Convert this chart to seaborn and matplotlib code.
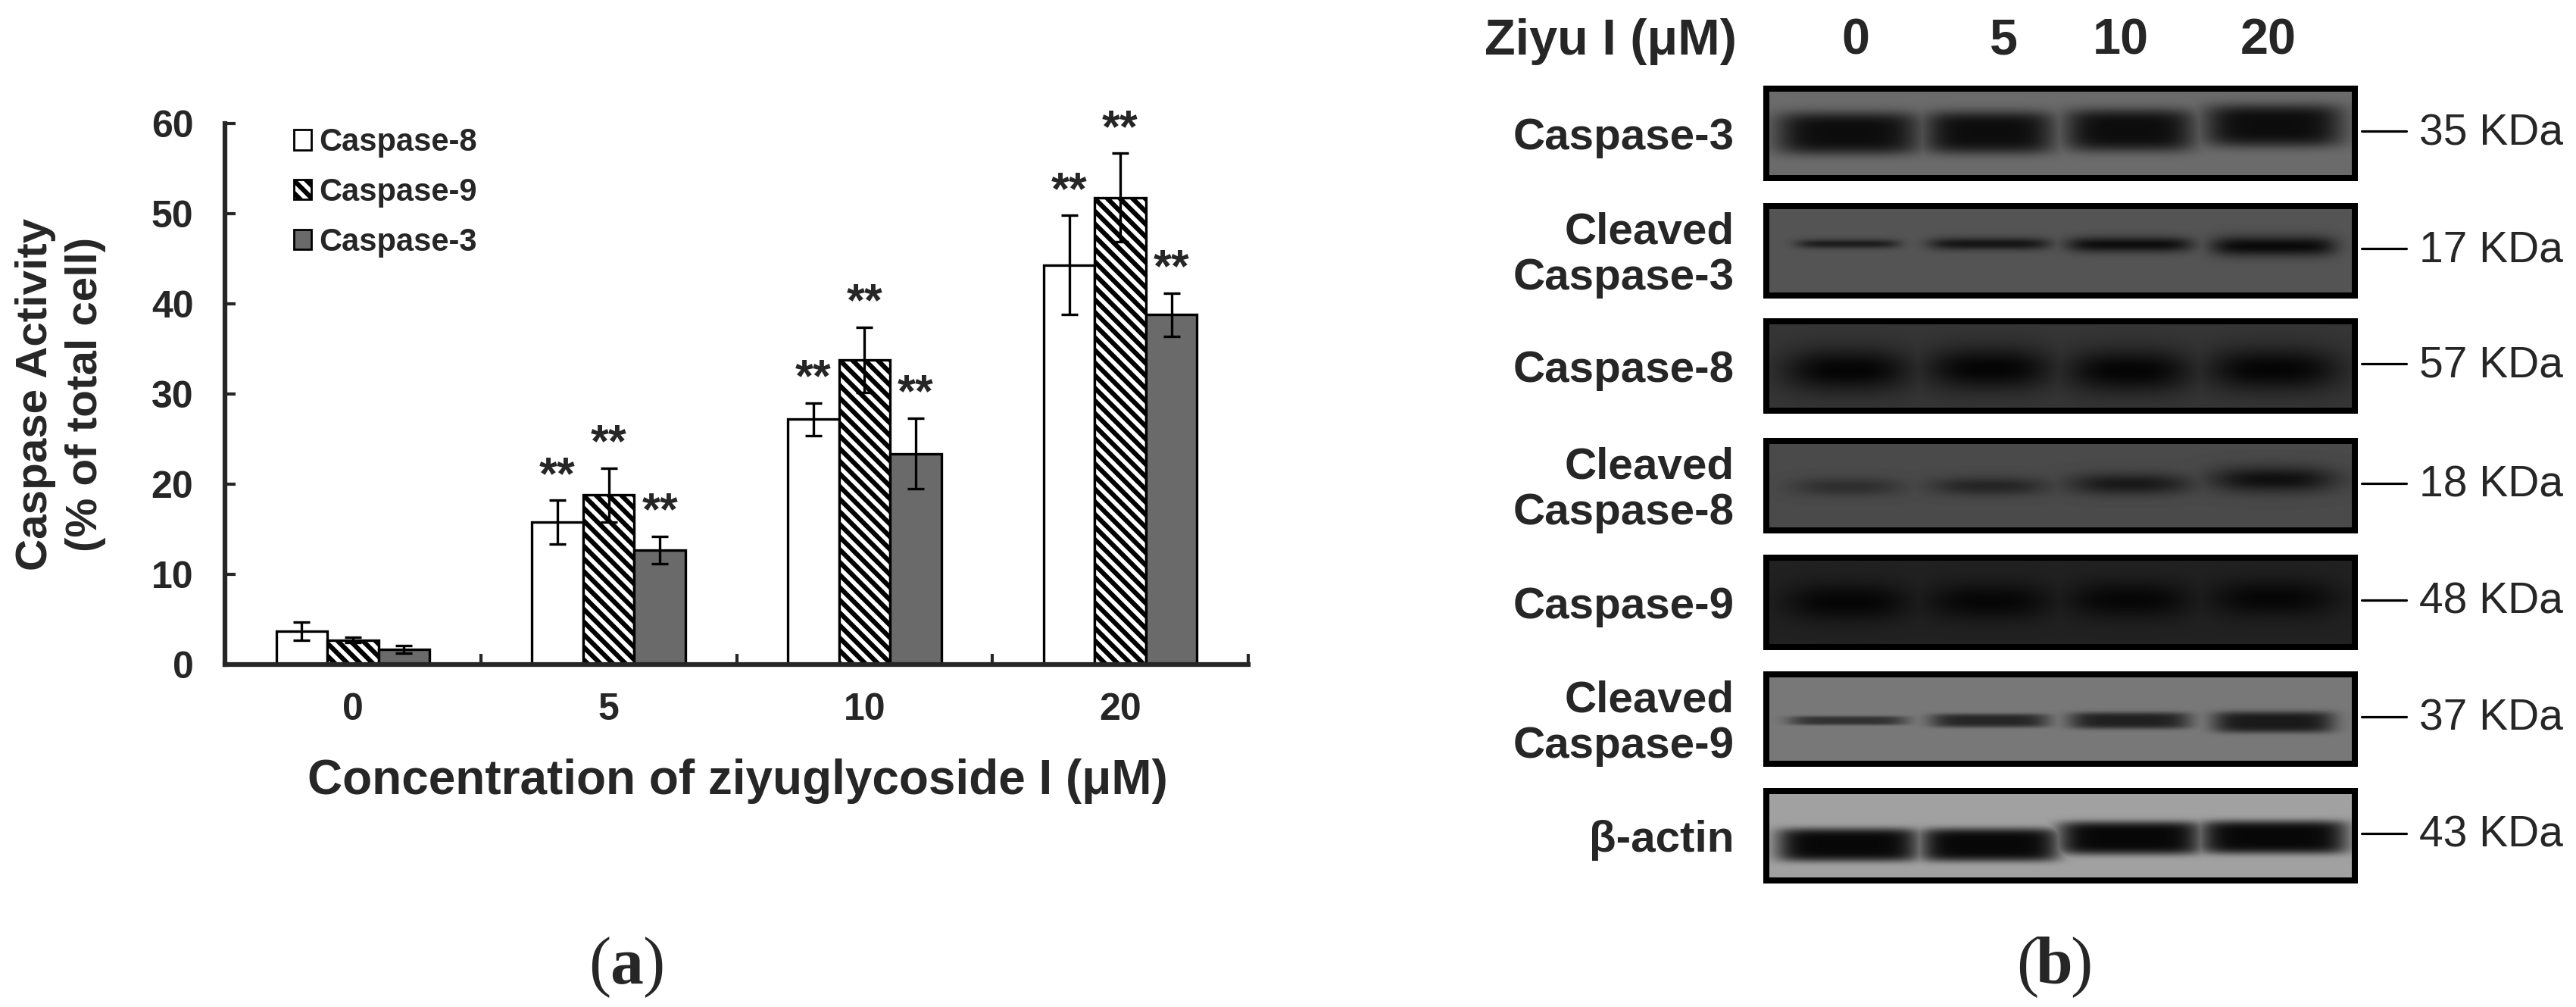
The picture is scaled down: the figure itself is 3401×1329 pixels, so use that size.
import numpy as np
import pandas as pd
import matplotlib
matplotlib.use("Agg")
import matplotlib.pyplot as plt
from matplotlib.patches import Patch, Rectangle
import seaborn as sns

W, H, DPI = 3401, 1329, 100

# ---------------- panel (a): caspase activity ----------------
concentrations = ["0", "5", "10", "20"]
caspases = ["Caspase-8", "Caspase-9", "Caspase-3"]
casp8_mean = [3.7, 15.8, 27.2, 44.3]
casp8_sd = [1.0, 2.4, 1.8, 5.5]
casp9_mean = [2.7, 18.8, 33.8, 51.8]
casp9_sd = [0.3, 3.0, 3.6, 4.9]
casp3_mean = [1.7, 12.7, 23.4, 38.8]
casp3_sd = [0.4, 1.5, 3.9, 2.4]
marked = [False, True, True, True]   # "**" above the treated groups

# ---------------- panel (b): western blot ----------------
lane_doses = ["0", "5", "10", "20"]
blot_labels = ["Caspase-3", "Cleaved\nCaspase-3", "Caspase-8", "Cleaved\nCaspase-8",
               "Caspase-9", "Cleaved\nCaspase-9", "β-actin"]
blot_kda = ["35 KDa", "17 KDa", "57 KDa", "18 KDa", "48 KDa", "37 KDa", "43 KDa"]
# relative band darkness per lane (1 = saturated)
casp3_band = [1.0, 1.0, 1.0, 1.0]
cl_casp3_band = [0.75, 0.85, 0.95, 1.0]
casp8_band = [1.0, 1.0, 1.0, 1.0]
cl_casp8_band = [0.45, 0.6, 0.8, 0.95]
casp9_band = [1.0, 0.95, 0.95, 0.95]
cl_casp9_band = [0.7, 0.82, 0.88, 0.95]
actin_band = [1.0, 1.0, 1.0, 1.0]
band_strength = [casp3_band, cl_casp3_band, casp8_band, cl_casp8_band,
                 casp9_band, cl_casp9_band, actin_band]

# membrane grey and darkest band grey of every strip
blot_bg = [0.42, 0.33, 0.21, 0.29, 0.13, 0.47, 0.63]
blot_core = [0.05, 0.04, 0.02, 0.05, 0.02, 0.08, 0.03]

# strip geometry (pixels)
box_left, box_right, box_h, border = 2328, 3113, 126, 8
box_top = [113, 268, 420, 578, 732, 886, 1040]
lane_x = [2440, 2627, 2812, 3002]
band_hw = [[95, 86, 86, 92], [68, 80, 83, 82], [84, 84, 84, 88], [72, 77, 80, 82],
           [82, 82, 82, 84], [78, 78, 80, 80], [94, 92, 95, 98]]
band_y = [[176, 175, 172, 166], [322, 322, 323, 325], [489, 487, 490, 488],
          [643, 642, 639, 633], [795, 794, 792, 790], [951, 951, 951, 953],
          [1115, 1115, 1106, 1105]]
band_hh = [[28] * 4, [6, 8, 10, 13], [28] * 4, [12, 12, 14, 17],
           [24] * 4, [6, 9, 11, 14], [22] * 4]
band_px = [5, 6, 3, 3, 3, 6, 7]      # sharpness across the lane
band_py = [4, 2, 2, 2, 2, 4, 5]      # sharpness along the lane


def blot_strip(x0, x1, y0, y1, bg, core, strength, hw, yc, hh, px, py):
    xs = np.arange(x0, x1) + 0.5
    ys = np.arange(y0, y1) + 0.5
    X, Y = np.meshgrid(xs, ys)
    dark = np.zeros_like(X)
    for s, cx, w, cy, h in zip(strength, lane_x, hw, yc, hh):
        shape = np.exp(-np.abs((X - cx) / w) ** px) * np.exp(-np.abs((Y - cy) / h) ** py)
        dark = np.maximum(dark, s * shape)
    return bg - (bg - core) * dark


sns.set_style("ticks")
plt.rcParams["font.family"] = ["Liberation Sans", "DejaVu Sans"]
plt.rcParams["hatch.linewidth"] = 4.5

fig = plt.figure(figsize=(W / DPI, H / DPI), dpi=DPI)
ax = fig.add_axes([297 / W, (H - 877) / H, (1648 - 297) / W, (877 - 163) / H])

df = pd.DataFrame({
    "concentration": concentrations * 3,
    "caspase": np.repeat(caspases, len(concentrations)),
    "activity": casp8_mean + casp9_mean + casp3_mean,
})
colors = ["white", "white", "#6a6a6a"]
sns.barplot(data=df, x="concentration", y="activity", hue="caspase",
            order=concentrations, hue_order=caspases, palette=colors,
            saturation=1, width=0.6, errorbar=None, edgecolor="black",
            linewidth=2.4, legend=False, ax=ax, zorder=2)

hatches = [None, "\\\\", None]
means = [casp8_mean, casp9_mean, casp3_mean]
sds = [casp8_sd, casp9_sd, casp3_sd]
for bars, hatch, m, s in zip(ax.containers, hatches, means, sds):
    xs = []
    for b in bars:
        if hatch:
            b.set_hatch(hatch)
        xs.append(b.get_x() + b.get_width() / 2)
    ax.errorbar(xs, m, yerr=s, fmt="none", ecolor="black", elinewidth=2.4,
                capsize=8, capthick=2.4, zorder=5)
    for x, mv, sv, mk in zip(xs, m, s, marked):
        if mk:
            ax.text(x, mv + sv + 1.3, "**", ha="center", va="baseline",
                    fontsize=44, fontweight="bold")

ax.set_ylim(0, 60)
ax.set_xlim(-0.5, 3.5)
ax.set_yticks(range(0, 61, 10))
ax.set_xticks(range(4))
ax.set_xticklabels(concentrations)
ax.set_xticks([0.5, 1.5, 2.5, 3.5], minor=True)
ax.set_xlabel("")
ax.set_ylabel("")
sns.despine(ax=ax)
for sp in ["left", "bottom"]:
    ax.spines[sp].set_linewidth(4.5)
ax.tick_params(axis="y", direction="in", length=10, width=3, pad=30, labelsize=36)
ax.tick_params(axis="x", which="major", length=0, pad=27, labelsize=36)
ax.tick_params(axis="x", which="minor", direction="in", length=10, width=3)
for lab in ax.get_xticklabels() + ax.get_yticklabels():
    lab.set_fontweight("bold")

handles = [Patch(facecolor=c, edgecolor="black", hatch=h, linewidth=2)
           for c, h in zip(colors, hatches)]
ax.legend(handles, caspases, loc="upper left", bbox_to_anchor=(388 / W, 1 - 168 / H),
          bbox_transform=fig.transFigure, frameon=False, borderpad=0, borderaxespad=0,
          handlelength=0.55, handleheight=0.6, handletextpad=0.25, labelspacing=0.62,
          prop={"size": 30, "weight": "bold"})

# pixel-space overlay for labels and the blot
pa = fig.add_axes([0, 0, 1, 1])
pa.set_xlim(0, W)
pa.set_ylim(H, 0)
pa.axis("off")
pa.patch.set_visible(False)

pa.text(80, 520, "Caspase Activity\n(% of total cell)", rotation=90, ha="center",
        va="center", fontsize=42, fontweight="bold", linespacing=1.3)
pa.text(974, 1048, "Concentration of ziyuglycoside I (μM)", ha="center",
        va="baseline", fontsize=46, fontweight="bold")

serif = ["Liberation Serif", "DejaVu Serif"]
for cx, letter in [(827, "a"), (2712, "b")]:
    pa.text(cx - 21, 1298, "(", ha="right", va="baseline", fontsize=63, family=serif)
    pa.text(cx, 1298, letter, ha="center", va="baseline", fontsize=63,
            fontweight="bold", family=serif)
    pa.text(cx + 21, 1298, ")", ha="left", va="baseline", fontsize=63, family=serif)

pa.text(2293, 72, "Ziyu I (μM)", ha="right", va="baseline", fontsize=48, fontweight="bold")
for x, d in zip([2450, 2645, 2800, 2995], lane_doses):
    pa.text(x, 72, d, ha="center", va="baseline", fontsize=48, fontweight="bold")

for i, top in enumerate(box_top):
    x0, x1 = box_left + border, box_right - border
    y0, y1 = top + border, top + box_h - border
    img = blot_strip(x0, x1, y0, y1, blot_bg[i], blot_core[i], band_strength[i],
                     band_hw[i], band_y[i], band_hh[i], band_px[i], band_py[i])
    pa.imshow(img, cmap="gray", vmin=0, vmax=1, extent=(x0, x1, y1, y0),
              aspect="auto", interpolation="bilinear", zorder=1)
    pa.add_patch(Rectangle((box_left + border / 2, top + border / 2),
                           box_right - box_left - border, box_h - border,
                           fill=False, edgecolor="black", linewidth=border * 0.72,
                           joinstyle="miter", zorder=2))
    cy = top + box_h / 2
    lines = blot_labels[i].split("\n")
    first = cy + 21 - 30 * (len(lines) - 1)
    for k, line in enumerate(lines):
        pa.text(2290, first + 60 * k, line, ha="right", va="baseline",
                fontsize=42, fontweight="bold")
    pa.plot([3118, 3177], [cy - 3, cy - 3], color="black", linewidth=2.3)
    pa.text(3194, cy + 15, blot_kda[i], ha="left", va="baseline", fontsize=41)

pa.set_xlim(0, W)
pa.set_ylim(H, 0)

fig.savefig("out.png", dpi=DPI)
